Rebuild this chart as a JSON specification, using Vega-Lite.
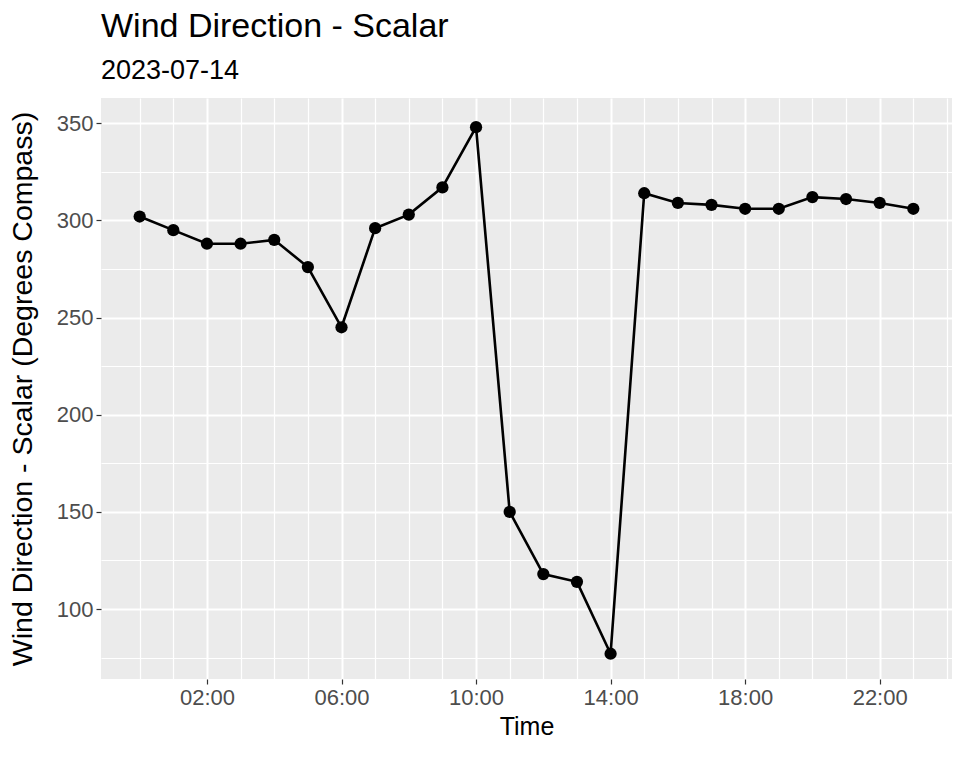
{
  "$schema": "https://vega.github.io/schema/vega-lite/v6.json",
  "autosize": {"type": "none"},
  "width": 851,
  "height": 581,
  "padding": {"left": 101, "top": 98, "right": 2, "bottom": 82},
  "background": "white",
  "title": {
    "text": "Wind Direction - Scalar",
    "subtitle": "2023-07-14",
    "anchor": "start",
    "frame": "group",
    "font": "Liberation Sans",
    "fontSize": 34,
    "fontWeight": "normal",
    "color": "#000000",
    "subtitleFont": "Liberation Sans",
    "subtitleFontSize": 27,
    "subtitleColor": "#000000",
    "subtitlePadding": 14,
    "offset": 14
  },
  "config": {
    "view": {"fill": "#EBEBEB", "stroke": null},
    "axis": {
      "domain": false,
      "labelFont": "Liberation Sans",
      "labelColor": "#4D4D4D",
      "titleFont": "Liberation Sans",
      "titleFontWeight": "normal",
      "titleColor": "#000000",
      "gridColor": "#FFFFFF",
      "tickColor": "#333333",
      "tickSize": 5,
      "tickWidth": 1.2
    }
  },
  "data": {
    "values": [
      {"hour": 0, "dir": 302},
      {"hour": 1, "dir": 295},
      {"hour": 2, "dir": 288},
      {"hour": 3, "dir": 288},
      {"hour": 4, "dir": 290},
      {"hour": 5, "dir": 276},
      {"hour": 6, "dir": 245},
      {"hour": 7, "dir": 296},
      {"hour": 8, "dir": 303},
      {"hour": 9, "dir": 317},
      {"hour": 10, "dir": 348},
      {"hour": 11, "dir": 150},
      {"hour": 12, "dir": 118},
      {"hour": 13, "dir": 114},
      {"hour": 14, "dir": 77},
      {"hour": 15, "dir": 314},
      {"hour": 16, "dir": 309},
      {"hour": 17, "dir": 308},
      {"hour": 18, "dir": 306},
      {"hour": 19, "dir": 306},
      {"hour": 20, "dir": 312},
      {"hour": 21, "dir": 311},
      {"hour": 22, "dir": 309},
      {"hour": 23, "dir": 306}
    ]
  },
  "encoding": {
    "x": {
      "field": "hour",
      "type": "quantitative",
      "scale": {"domain": [-1.15, 24.15], "nice": false, "zero": false},
      "axis": {
        "title": "Time",
        "titleFontSize": 25,
        "titlePadding": 6,
        "labelFontSize": 22,
        "labelPadding": 3,
        "values": [0,1,2,3,4,5,6,7,8,9,10,11,12,13,14,15,16,17,18,19,20,21,22,23,24],
        "labelExpr": "datum.value % 4 == 2 ? (datum.value < 10 ? '0' : '') + datum.value + ':00' : ''",
        "tickOpacity": {"condition": {"test": "datum.value % 4 == 2", "value": 1}, "value": 0},
        "gridWidth": {"condition": {"test": "datum.value % 4 == 2", "value": 2}, "value": 1.2},
        "labelFlush": false,
        "labelOverlap": false
      }
    },
    "y": {
      "field": "dir",
      "type": "quantitative",
      "scale": {"domain": [64, 363], "nice": false, "zero": false},
      "axis": {
        "title": "Wind Direction - Scalar (Degrees Compass)",
        "titleFontSize": 28.5,
        "titlePadding": 19,
        "labelFontSize": 22,
        "labelPadding": 3,
        "values": [75,100,125,150,175,200,225,250,275,300,325,350],
        "labelExpr": "datum.value % 50 == 0 ? datum.value : ''",
        "tickOpacity": {"condition": {"test": "datum.value % 50 == 0", "value": 1}, "value": 0},
        "gridWidth": {"condition": {"test": "datum.value % 50 == 0", "value": 2}, "value": 1.2},
        "labelOverlap": false
      }
    }
  },
  "layer": [
    {"mark": {"type": "line", "color": "#000000", "strokeWidth": 2.6}},
    {"mark": {"type": "point", "filled": true, "color": "#000000", "opacity": 1, "size": 150}}
  ]
}
